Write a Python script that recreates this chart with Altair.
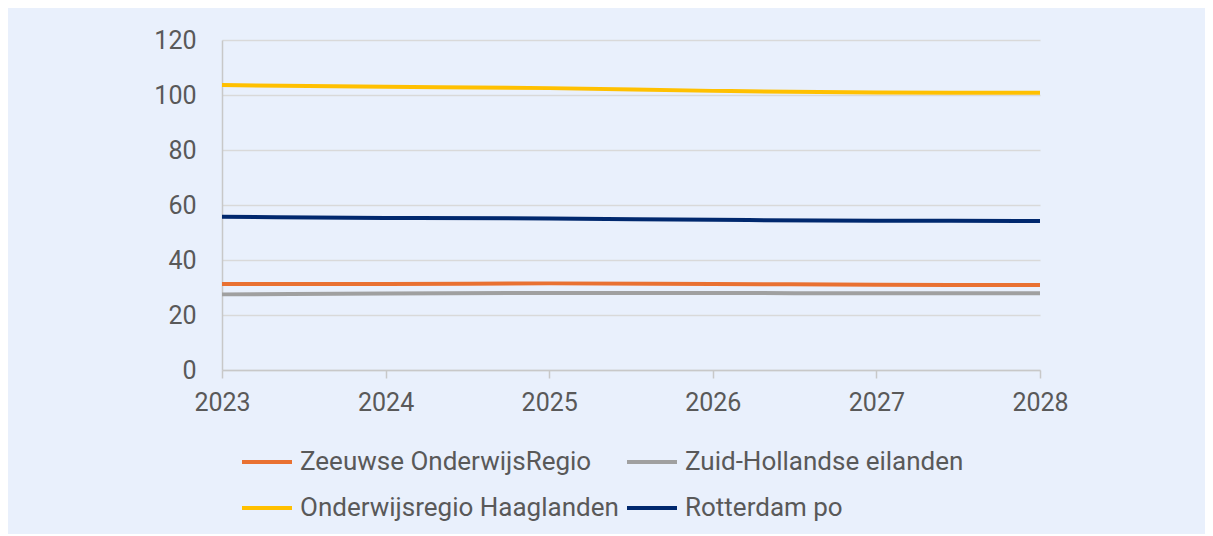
import altair as alt
import pandas as pd

years = [2023, 2024, 2025, 2026, 2027, 2028]
series_names = [
    "Zeeuwse OnderwijsRegio",
    "Zuid-Hollandse eilanden",
    "Onderwijsregio Haaglanden",
    "Rotterdam po",
]
zeeuwse = [31.3, 31.3, 31.5, 31.3, 31.0, 30.9]
zuid_hollandse = [27.5, 27.8, 28.0, 28.0, 27.9, 27.9]
haaglanden = [103.6, 103.0, 102.5, 101.5, 100.9, 100.8]
rotterdam = [55.7, 55.3, 55.1, 54.6, 54.3, 54.2]
colors = ["#E97132", "#A0A0A0", "#FFC000", "#00286E"]

rows = []
for name, vals in zip(series_names, [zeeuwse, zuid_hollandse, haaglanden, rotterdam]):
    for y, v in zip(years, vals):
        rows.append({"Jaar": y, "Regio": name, "Waarde": v})
df = pd.DataFrame(rows)

# legend is laid out column by column, so list entries column-wise
legend_order = [series_names[0], series_names[2], series_names[1], series_names[3]]
legend_colors = [colors[0], colors[2], colors[1], colors[3]]

FONT = "Roboto"

chart = alt.Chart(df).mark_line(strokeWidth=4, interpolate="monotone").encode(
    x=alt.X("Jaar:Q",
            scale=alt.Scale(domain=[2023, 2028], nice=False, zero=False),
            axis=alt.Axis(values=years, format="d", title=None, grid=False,
                          domainColor="#C8C8C8", domainWidth=1.5,
                          tickColor="#C8C8C8", tickSize=8, tickWidth=1.5,
                          labelFont=FONT, labelFontSize=25, labelColor="#595959",
                          labelPadding=12, labelFlush=False)),
    y=alt.Y("Waarde:Q",
            scale=alt.Scale(domain=[0, 120], nice=False),
            axis=alt.Axis(values=[0, 20, 40, 60, 80, 100, 120], title=None,
                          gridColor="#D9D9D9", gridWidth=1.5,
                          domainColor="#C8C8C8", domainWidth=1.5, ticks=False,
                          labelFont=FONT, labelFontSize=25, labelColor="#595959",
                          labelPadding=26)),
    color=alt.Color("Regio:N",
                    scale=alt.Scale(domain=legend_order, range=legend_colors),
                    legend=alt.Legend(title=None, orient="none", legendX=18, legendY=395,
                                      columns=2, symbolType="stroke", symbolSize=2500,
                                      symbolStrokeWidth=4, labelFont=FONT,
                                      labelFontSize=26, labelColor="#595959",
                                      labelOffset=6, columnPadding=0, rowPadding=6,
                                      labelLimit=500)),
).properties(
    width=818, height=330,
    background="#E9F0FC",
    padding={"left": 214, "top": 32, "right": 165, "bottom": 164},
    autosize=alt.AutoSizeParams(type="none"),
).configure_view(stroke=None)

chart.save("out.html", embed_options={"renderer": "svg", "actions": False})
